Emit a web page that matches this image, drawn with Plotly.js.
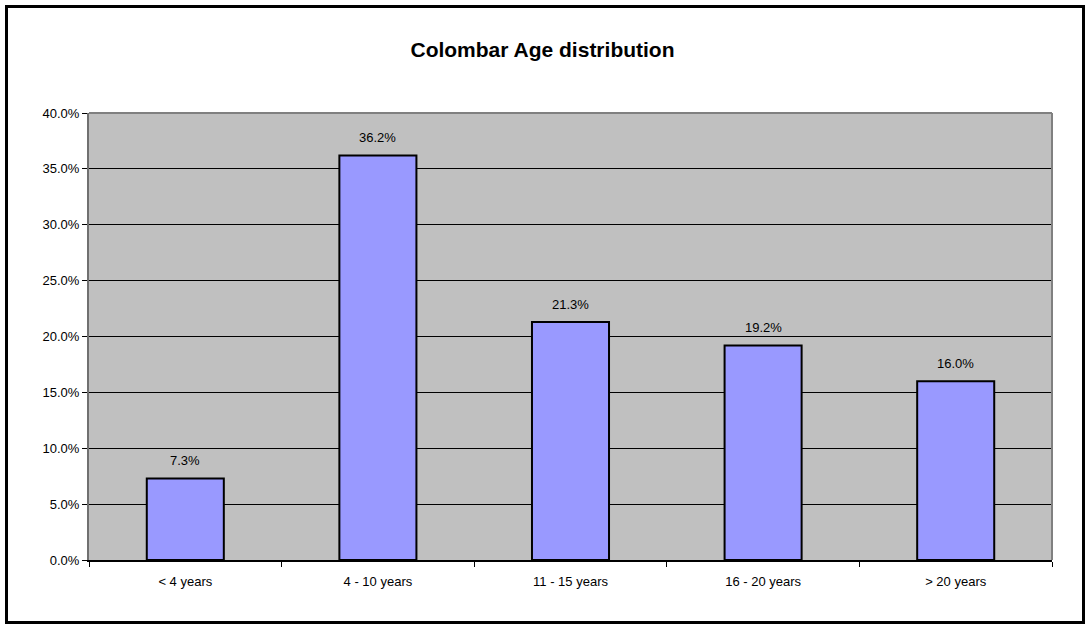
<!DOCTYPE html>
<html>
<head>
<meta charset="utf-8">
<script src="https://cdn.plot.ly/plotly-3.0.1.min.js"></script>
<style>
html,body{margin:0;padding:0;background:#fff;}
#frame{position:absolute;left:5px;top:5px;width:1080px;height:619px;box-sizing:border-box;border:3px solid #000;pointer-events:none;z-index:10;}
#chart{position:absolute;left:0;top:0;width:1085px;height:625px;}
</style>
</head>
<body>
<div id="chart"></div>
<div id="frame"></div>
<script>
const categories = ["< 4 years", "4 - 10 years", "11 - 15 years", "16 - 20 years", "> 20 years"];
const shares = [0.073, 0.362, 0.213, 0.192, 0.160];
const yTickVals = [0, 0.05, 0.10, 0.15, 0.20, 0.25, 0.30, 0.35, 0.40];

const FONT = 'Liberation Sans, Arial, sans-serif';

const trace = {
  type: 'bar',
  x: categories,
  y: shares,
  marker: {color: '#9999FF', line: {color: '#000000', width: 2}},
  hoverinfo: 'skip'
};

const labelAnnotations = categories.map((c, i) => ({
  x: c, y: shares[i], xref: 'x', yref: 'y',
  text: (shares[i] * 100).toFixed(1) + '%',
  showarrow: false, yanchor: 'bottom', yshift: 8,
  font: {family: FONT, size: 13, color: '#000'}
}));

const layout = {
  width: 1085, height: 625,
  margin: {l: 89, r: 33, t: 113, b: 65, pad: 0},
  paper_bgcolor: '#ffffff',
  plot_bgcolor: '#C0C0C0',
  showlegend: false,
  bargap: 0.6,
  font: {family: FONT, size: 13, color: '#000'},
  title: {
    text: '<b>Colombar Age distribution</b>',
    font: {family: FONT, size: 21, color: '#000'},
    x: 0.5, xanchor: 'center', y: 1 - 50/625, yanchor: 'middle', yref: 'container'
  },
  xaxis: {
    type: 'category',
    tickson: 'boundaries',
    ticks: 'outside', ticklen: 5, tickcolor: '#000', tickwidth: 1,
    ticklabelstandoff: 8,
    showline: true, linecolor: '#000', linewidth: 2,
    showgrid: false, zeroline: false,
    tickfont: {size: 13},
    fixedrange: true
  },
  yaxis: {
    range: [0, 0.4],
    tickvals: yTickVals,
    tickformat: '.1%',
    ticks: 'outside', ticklen: 5, tickcolor: '#000', tickwidth: 1,
    showline: true, linecolor: '#707070', linewidth: 2,
    showgrid: true, gridcolor: '#000', gridwidth: 1,
    zeroline: false,
    tickfont: {size: 13},
    fixedrange: true
  },
  annotations: labelAnnotations,
  shapes: [
    {type: 'line', xref: 'paper', yref: 'paper', x0: 0, x1: 1, y0: 1, y1: 1, line: {color: '#808080', width: 2}},
    {type: 'line', xref: 'paper', yref: 'paper', x0: 1, x1: 1, y0: 0, y1: 1, line: {color: '#808080', width: 2}}
  ]
};

Plotly.newPlot('chart', [trace], layout, {displayModeBar: false, staticPlot: true});
</script>
</body>
</html>
